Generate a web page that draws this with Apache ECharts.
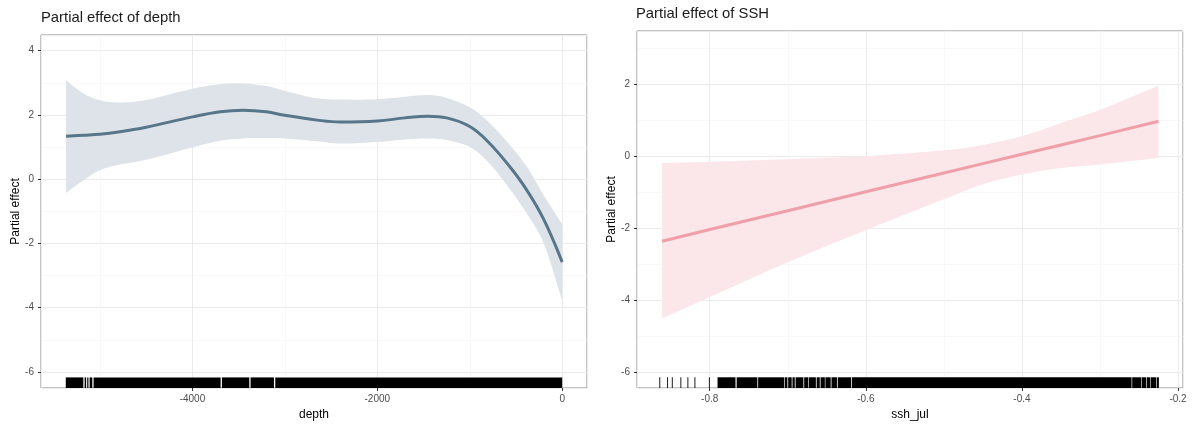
<!DOCTYPE html>
<html><head><meta charset="utf-8">
<script src="https://cdn.jsdelivr.net/npm/echarts@6/dist/echarts.min.js"></script>
<style>html,body{margin:0;padding:0;background:#fff}#c{width:1196px;height:426px}</style>
</head><body><div id="c"></div>
<script>
// ---- Panel 1: depth ----
const depthX     = [-5367,-5180,-5000,-4800,-4500,-4000,-3700,-3450,-3200,-3000,-2650,-2400,-2000,-1700,-1450,-1250,-1000,-800,-575,-385,-200,0];
const depthFit   = [1.34,1.37,1.40,1.47,1.62,1.94,2.10,2.15,2.10,1.99,1.84,1.78,1.81,1.91,1.96,1.91,1.64,1.16,0.42,-0.33,-1.25,-2.58];
const depthUpper = [3.08,2.67,2.46,2.39,2.47,2.82,2.96,2.98,2.90,2.75,2.52,2.48,2.49,2.57,2.62,2.53,2.24,1.79,1.10,0.40,-0.50,-1.40];
const depthLower = [-0.43,-0.03,0.28,0.45,0.61,0.99,1.20,1.27,1.28,1.27,1.18,1.11,1.16,1.24,1.27,1.22,1.00,0.53,-0.27,-1.06,-2.00,-3.77];
const depthRug   = [[-5370,-5180],[-5166,-5150],[-5138,-5125],[-5112,-5083],[-5069,-3695],[-3681,-3385],[-3371,-3118],[-3104,0]];
const depthTickLabels = ['-4000','-2000','0'];

// ---- Panel 2: SSH ----
const sshX     = [-0.861,-0.8,-0.7,-0.6,-0.5,-0.45,-0.4,-0.35,-0.3,-0.225];
const sshFit   = [-2.37,-2.04,-1.52,-0.99,-0.47,-0.21,0.05,0.31,0.57,0.97];
const sshUpper = [-0.20,-0.16,-0.09,0.0,0.16,0.31,0.55,0.92,1.29,1.96];
const sshLower = [-4.52,-3.92,-2.95,-2.06,-1.20,-0.78,-0.51,-0.33,-0.23,-0.05];
const sshRug   = [[-0.864,-0.864],[-0.854,-0.854],[-0.848,-0.848],[-0.837,-0.837],[-0.828,-0.828],[-0.819,-0.819],[-0.8005,-0.8005],
  [-0.790,-0.767],[-0.7655,-0.739],[-0.738,-0.7048],[-0.704,-0.7005],[-0.6995,-0.695],[-0.694,-0.691],[-0.690,-0.680],
  [-0.679,-0.6736],[-0.6728,-0.664],[-0.663,-0.659],[-0.658,-0.6525],[-0.6518,-0.645],[-0.644,-0.637],[-0.636,-0.619],
  [-0.618,-0.2595],[-0.2587,-0.2473],[-0.2466,-0.241],[-0.2402,-0.2358],[-0.2351,-0.2282],[-0.2274,-0.2245]];
const sshTickLabels = ['-0.8','-0.6','-0.4','-0.2'];

const yTickLabels = ['-6','-4','-2','0','2','4'];

const FONT = 'Liberation Sans, Arial, sans-serif';
const zip = (a, b) => a.map((v, i) => [v, b[i]]);

function rugItem(params, api) {
  const cs = params.coordSys;
  const x0 = api.coord([api.value(0), 0])[0];
  const x1 = api.coord([api.value(1), 0])[0];
  const h = cs.height * 0.03;
  let w = x1 - x0, xs = x0;
  if (w < 0.9) { xs = x0 - 0.45; w = 0.9; }
  return { type: 'rect', shape: { x: xs, y: cs.y + cs.height - h, width: w, height: h }, style: { fill: '#000' } };
}

// Catmull-Rom spline through pixel points, as bezier path commands (no leading M)
function splinePath(p) {
  let d = '';
  for (let i = 0; i < p.length - 1; i++) {
    const p0 = p[Math.max(i - 1, 0)], p1 = p[i], p2 = p[i + 1], p3 = p[Math.min(i + 2, p.length - 1)];
    const c1 = [p1[0] + (p2[0] - p0[0]) / 6, p1[1] + (p2[1] - p0[1]) / 6];
    const c2 = [p2[0] - (p3[0] - p1[0]) / 6, p2[1] - (p3[1] - p1[1]) / 6];
    d += ` C${c1[0]},${c1[1]} ${c2[0]},${c2[1]} ${p2[0]},${p2[1]}`;
  }
  return d;
}
function bandRender(xs, up, lo, color) {
  return function (params, api) {
    if (params.dataIndex !== 0) return null;
    const pu = xs.map((x, i) => api.coord([x, up[i]]));
    const pl = xs.map((x, i) => api.coord([x, lo[i]])).reverse();
    const d = `M${pu[0][0]},${pu[0][1]}` + splinePath(pu) + ` L${pl[0][0]},${pl[0][1]}` + splinePath(pl) + ' Z';
    return { type: 'path', shape: { pathData: d }, style: { fill: color, stroke: null } };
  };
}

function xAxisCfg(gi, min, max, interval, labels, name) {
  return {
    type: 'value', gridIndex: gi, min, max, minInterval: interval, maxInterval: interval, splitNumber: 3,
    name, nameLocation: 'middle', nameGap: 17,
    nameTextStyle: { fontFamily: FONT, fontSize: 12, color: '#000' },
    axisLine: { show: false, onZero: false },
    axisTick: { show: true, length: 3, lineStyle: { color: '#333', width: 1 } },
    axisLabel: { margin: 6, fontFamily: FONT, fontSize: 10, color: '#4d4d4d', showMinLabel: false, showMaxLabel: false,
      formatter: v => { const s = String(Math.round(v * 1000) / 1000); return labels.includes(s) ? s : ''; } },
    splitLine: { show: true, lineStyle: { color: '#ebebeb', width: 1 } },
    minorTick: { show: false, splitNumber: 2 },
    minorSplitLine: { show: true, lineStyle: { color: '#f5f5f5', width: 0.7 } }
  };
}
function yAxisCfg(gi, min, max, nameGap) {
  return {
    type: 'value', gridIndex: gi, min, max, minInterval: 2, maxInterval: 2,
    name: 'Partial effect', nameLocation: 'middle', nameGap,
    nameTextStyle: { fontFamily: FONT, fontSize: 12, color: '#000' },
    axisLine: { show: false, onZero: false },
    axisTick: { show: true, length: 3, lineStyle: { color: '#333', width: 1 } },
    axisLabel: { margin: 7, fontFamily: FONT, fontSize: 10, color: '#4d4d4d', showMinLabel: false, showMaxLabel: false,
      formatter: v => { const s = String(Math.round(v * 1000) / 1000); return yTickLabels.includes(s) ? s : ''; } },
    splitLine: { show: true, lineStyle: { color: '#ebebeb', width: 1 } },
    minorTick: { show: false, splitNumber: 2 },
    minorSplitLine: { show: true, lineStyle: { color: '#f5f5f5', width: 0.7 } }
  };
}

const chart = echarts.init(document.getElementById('c'), null, { renderer: 'canvas' });
chart.setOption({
  animation: false,
  backgroundColor: '#fff',
  title: [
    { text: 'Partial effect of depth', left: 41, top: 10, padding: 0,
      textStyle: { fontFamily: FONT, fontSize: 14.8, fontWeight: 'normal', color: '#1a1a1a' } },
    { text: 'Partial effect of SSH', left: 636, top: 6, padding: 0,
      textStyle: { fontFamily: FONT, fontSize: 14.8, fontWeight: 'normal', color: '#1a1a1a' } }
  ],
  grid: [
    { left: 41, top: 35, width: 546, height: 353, show: true, borderColor: '#8a8a8a', borderWidth: 1, backgroundColor: 'transparent' },
    { left: 637, top: 31, width: 546, height: 357, show: true, borderColor: '#8a8a8a', borderWidth: 1, backgroundColor: 'transparent' }
  ],
  xAxis: [
    xAxisCfg(0, -5638, 268, 2000, depthTickLabels, 'depth'),
    xAxisCfg(1, -0.8932, -0.1936, 0.2, sshTickLabels, 'ssh_jul')
  ],
  yAxis: [
    yAxisCfg(0, -6.5, 4.49, 19),
    yAxisCfg(1, -6.45, 3.48, 19)
  ],
  series: [
    { type: 'custom', xAxisIndex: 0, yAxisIndex: 0, data: zip(depthX, depthUpper), encode: { x: 0, y: 1 },
      renderItem: bandRender(depthX, depthUpper, depthLower, '#dde3e8'), silent: true, z: 1 },
    { type: 'line', xAxisIndex: 0, yAxisIndex: 0, data: zip(depthX, depthFit), smooth: 0.4, symbol: 'none',
      lineStyle: { color: '#58768a', width: 3 }, z: 3 },
    { type: 'custom', xAxisIndex: 0, yAxisIndex: 0, data: depthRug, encode: { x: [0, 1] }, renderItem: rugItem, clip: false, z: 4 },

    { type: 'custom', xAxisIndex: 1, yAxisIndex: 1, data: zip(sshX, sshUpper), encode: { x: 0, y: 1 },
      renderItem: bandRender(sshX, sshUpper, sshLower, '#fbe6ea'), silent: true, z: 1 },
    { type: 'line', xAxisIndex: 1, yAxisIndex: 1, data: zip(sshX, sshFit), smooth: false, symbol: 'none',
      lineStyle: { color: '#ef9fa8', width: 3 }, z: 3 },
    { type: 'custom', xAxisIndex: 1, yAxisIndex: 1, data: sshRug, encode: { x: [0, 1] }, renderItem: rugItem, clip: false, z: 4 }
  ]
});
</script>
</body></html>
